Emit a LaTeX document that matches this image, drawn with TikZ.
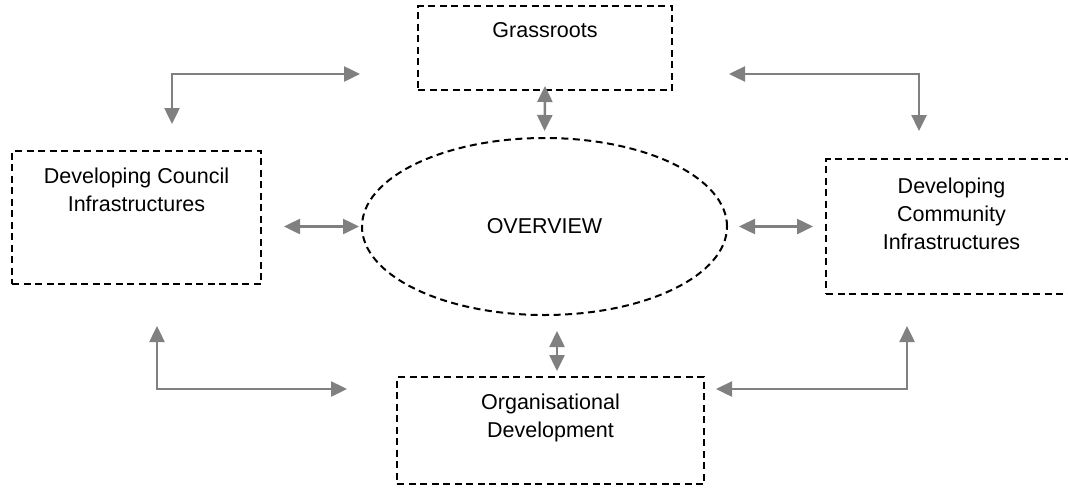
\documentclass[tikz,border=0pt]{standalone}
\usepackage{fontspec}
\setmainfont{Liberation Sans}
\usetikzlibrary{arrows.meta,shapes.geometric}
\begin{document}
\begin{tikzpicture}[x=0.5pt, y=-0.5pt, font=\fontsize{10.75}{14}\selectfont,
    box/.style={draw, dash pattern=on 3.5pt off 2.25pt, line width=1pt, inner sep=0pt},
    title/.style={anchor=north, align=center, inner sep=0pt, yshift=-8.7pt},
    link/.style={draw=gray, line width=1.25pt, arrows={Triangle[length=8pt, width=7.5pt]-Triangle[length=8pt, width=7.5pt]}}]
	\useasboundingbox (0,0) rectangle (1068,493);
	\node[box, minimum width=127pt, minimum height=42pt, label={[title]north:Grassroots}] (grass) at (545,48) {};
	\node[box, minimum width=124.5pt, minimum height=66.5pt, label={[title]north:Developing Council\\Infrastructures}] (council) at (136.5,217.5) {};
	\node[box, minimum width=125.5pt, minimum height=67.5pt, label={[title, yshift=-1.25pt]north:Developing\\Community\\Infrastructures}] (community) at (951.5,226.5) {};
	\node[box, minimum width=153.5pt, minimum height=53.5pt, label={[title]north:Organisational\\Development}] (dev) at (550.5,430.5) {};
	\node[box, ellipse, minimum width=182.5pt, minimum height=88.5pt] (ov) at (544.5,226.5) {OVERVIEW};

	\draw[link, shorten <=-2.5pt, shorten >=3pt] (grass.south) -- (ov.north);
	\draw[link, shorten <=7.5pt, shorten >=2.5pt] ([xshift=6.25pt]ov.south) -- ([xshift=6.25pt]ov.south |- dev.north);
	\draw[link, shorten <=11pt, shorten >=1pt] (council.east |- ov.west) -- (ov.west);
	\draw[link, shorten <=5.5pt, shorten >=6pt] (ov.east) -- (community.west |- ov.east);
	\draw[link] ([xshift=-28.5pt, yshift=8.5pt]grass.south west) -| ([xshift=17.75pt, yshift=13pt]council.north);
	\draw[link] ([xshift=28pt, yshift=8.5pt]grass.south east) -| ([xshift=-16.25pt, yshift=13.5pt]community.north);
	\draw[link] ([xshift=10.25pt, yshift=-20.5pt]council.south) |- ([xshift=-24.5pt, yshift=-6.5pt]dev.north west);
	\draw[link] ([xshift=-22.25pt, yshift=-15.5pt]community.south) |- ([xshift=5.5pt, yshift=-6.5pt]dev.north east);
\end{tikzpicture}
\end{document}
